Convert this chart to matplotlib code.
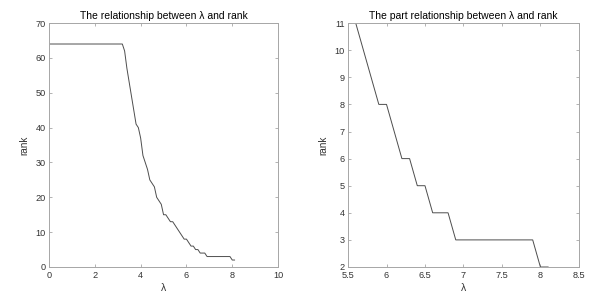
import numpy as np
import matplotlib.pyplot as plt

plt.rcParams['font.family'] = ['Liberation Sans', 'DejaVu Sans']

# lambda values, step 0.1 from 0 to 8.1
lam = np.round(np.arange(0, 8.15, 0.1), 1)
rank_head = [64] * 33  # 0.0 .. 3.2
rank_tail = [62, 57, 53, 49, 45, 41, 40, 37, 32, 30, 28, 25, 24, 23, 20, 19, 18,
             15, 15, 14, 13, 13, 12, 11,          # 3.3 .. 5.6
             10, 9, 8, 8, 7, 6, 6, 5, 5, 4, 4, 4,  # 5.7 .. 6.8
             3, 3, 3, 3, 3, 3, 3, 3, 3, 3, 3,      # 6.9 .. 7.9
             2, 2]                                 # 8.0 .. 8.1
rank = np.array(rank_head + rank_tail)

part_start = 5.6

fig = plt.figure(figsize=(5.98, 3.0), dpi=100)
ax1 = fig.add_axes([0.082, 0.11, 0.383, 0.813])
ax2 = fig.add_axes([0.582, 0.11, 0.386, 0.813])

txt = '#333333'
edge = '#a6a6a6'
line_c = '#4d4d4d'

def style(ax):
    for s in ax.spines.values():
        s.set_color(edge)
        s.set_linewidth(0.7)
    ax.tick_params(direction='in', top=True, right=True, length=2.5, width=0.6,
                   labelsize=6.6, colors=edge, labelcolor=txt)
    ax.tick_params(axis='x', pad=3)
    ax.tick_params(axis='y', pad=2.5)

ax1.plot(lam, rank, color=line_c, lw=0.7)
ax1.set_xlim(0, 10)
ax1.set_ylim(0, 70)
ax1.set_xticks(np.arange(0, 11, 2))
ax1.set_yticks(np.arange(0, 71, 10))
ax1.set_title('The relationship between λ and rank', fontsize=7.5, color='black', pad=3)
ax1.set_xlabel('λ', fontsize=7.5, color=txt, labelpad=2)
ax1.set_ylabel('rank', fontsize=7.2, color=txt, labelpad=4)
style(ax1)

m = lam >= part_start
ax2.plot(lam[m], rank[m], color=line_c, lw=0.7)
ax2.set_xlim(5.5, 8.5)
ax2.set_ylim(2, 11)
ax2.set_xticks(np.arange(5.5, 8.51, 0.5))
ax2.set_xticklabels(['5.5', '6', '6.5', '7', '7.5', '8', '8.5'])
ax2.set_yticks(np.arange(2, 12, 1))
ax2.set_title('The part relationship between λ and rank', fontsize=7.5, color='black', pad=3)
ax2.set_xlabel('λ', fontsize=7.5, color=txt, labelpad=2)
ax2.set_ylabel('rank', fontsize=7.2, color=txt, labelpad=4)
style(ax2)

fig.savefig('out.png', dpi=100)
